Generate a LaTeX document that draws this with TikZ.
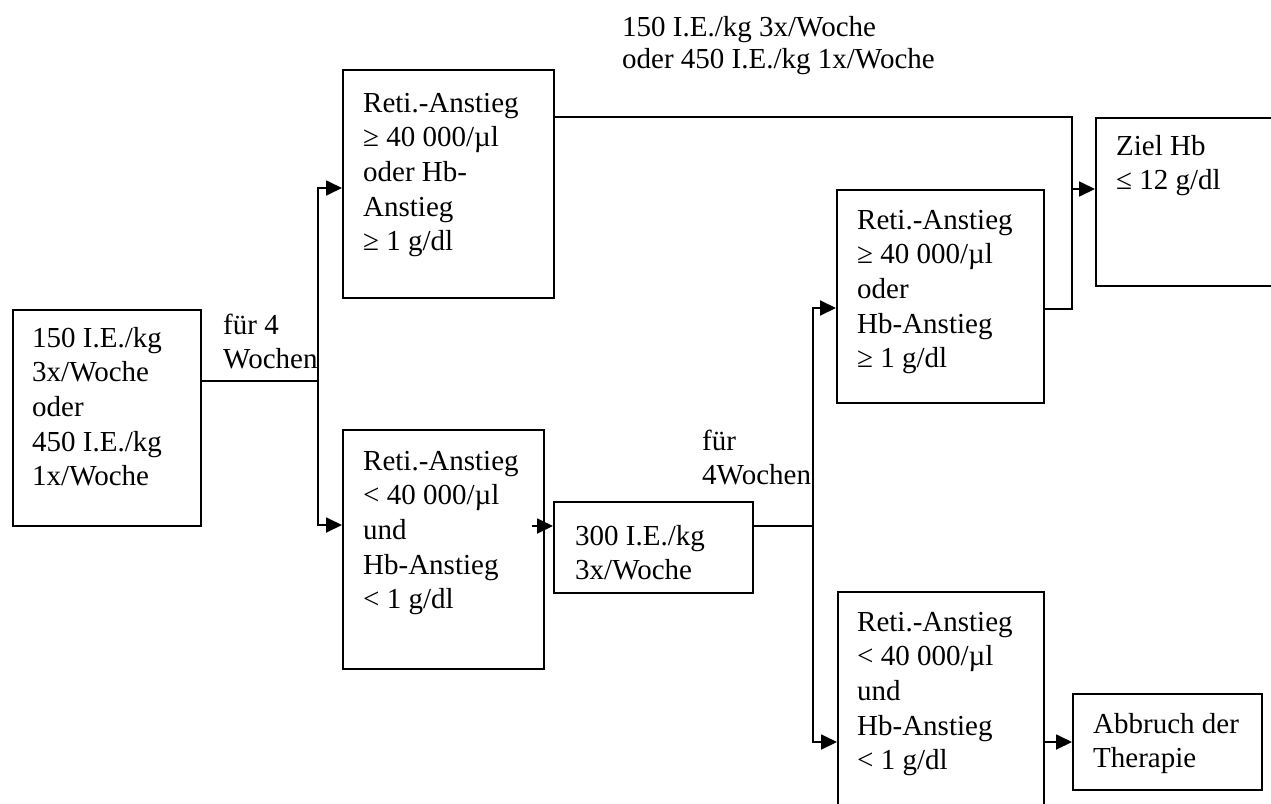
\documentclass[tikz,border=0pt]{standalone}
\usepackage{fontspec}
\setmainfont{Liberation Serif}
\usetikzlibrary{arrows.meta,calc}
\newcommand{\bxlines}[1]{\parbox[t]{360pt}{\raggedright #1}}
\begin{document}
\begin{tikzpicture}[x=1pt,y=-1pt,
  box/.style={draw, line width=1.8pt, inner sep=0pt, anchor=north west},
  txt/.style={inner sep=0pt, anchor=base west, font=\fontsize{29}{34.7}\selectfont},
  conn/.style={line width=1.8pt},
  arr/.style={line width=1.8pt, -{Triangle[length=16pt,width=15pt]}}]
\useasboundingbox (0,0) rectangle (1271,803);
\clip (0,0) rectangle (1271,803);
% boxes
\node[box, minimum width=188pt, minimum height=216pt] (A) at (12,309) {};
\node[box, minimum width=211pt, minimum height=228pt] (B) at (342,69) {};
\node[box, minimum width=201pt, minimum height=239pt] (C) at (342,429) {};
\node[box, minimum width=199pt, minimum height=91pt] (D) at (553,501) {};
\node[box, minimum width=207pt, minimum height=213pt] (E) at (836,189) {};
\node[box, minimum width=220pt, minimum height=168pt] (F) at (1095,117) {};
\node[box, minimum width=206pt, minimum height=240pt] (G) at (837,591) {};
\node[box, minimum width=189pt, minimum height=96pt] (H) at (1072,693) {};
% texts
\node[txt] (At) at (32,347) {\bxlines{150 I.E./kg\\3x/Woche\\oder\\450 I.E./kg\\1x/Woche}};
\node[txt] (Bt) at (363,112) {\bxlines{Reti.-Anstieg\\≥ 40 000/µl\\oder Hb-\\Anstieg\\≥ 1 g/dl}};
\node[txt] (Ct) at (363,470) {\bxlines{Reti.-Anstieg\\< 40 000/µl\\und\\Hb-Anstieg\\< 1 g/dl}};
\node[txt] (Dt) at (575,545) {\bxlines{300 I.E./kg\\3x/Woche}};
\node[txt] (Et) at (857,229) {\bxlines{Reti.-Anstieg\\≥ 40 000/µl\\oder\\Hb-Anstieg\\≥ 1 g/dl}};
\node[txt] (Ft) at (1116,155) {\bxlines{Ziel Hb\\≤ 12 g/dl}};
\node[txt] (Gt) at (857,631) {\bxlines{Reti.-Anstieg\\< 40 000/µl\\und\\Hb-Anstieg\\< 1 g/dl}};
\node[txt] (Ht) at (1093,733) {\bxlines{Abbruch der\\Therapie}};
% labels
\node[txt] (L1) at (223,334) {\bxlines{für 4\\Wochen}};
\node[txt] (L2) at (702,450) {\bxlines{für\\4Wochen}};
\node[txt, font=\fontsize{29}{32.5}\selectfont] (L3) at (622,36) {\bxlines{150 I.E./kg 3x/Woche\\oder 450 I.E./kg 1x/Woche}};
% junction coordinates
\coordinate (jA) at (318,381);
\coordinate (t1) at (318,188);
\coordinate (t2) at (318,525);
\coordinate (u1) at (1072,117);
\coordinate (u2) at (1072,309);
\coordinate (uF) at (1072,189);
\coordinate (vD) at (813,526);
\coordinate (s1) at (813,308);
\coordinate (s2) at (813,742);
% connectors
\draw[conn] (A.east |- jA) -- (jA);
\draw[arr] (jA) -- (t1) -- (t1 -| B.west);
\draw[arr] (jA) -- (t2) -- (t2 -| C.west);
\draw[conn] (u1 -| B.east) -- (u1) -- (u2) -- (u2 -| E.east);
\draw[arr] (uF) -- (uF -| F.west);
\draw[arr] ($(C.east |- vD)+(-13,0)$) -- (vD -| D.west);
\draw[conn] (D.east |- vD) -- (vD);
\draw[arr] (vD) -- (s1) -- (s1 -| E.west);
\draw[arr] (vD) -- (s2) -- (s2 -| G.west);
\draw[arr] (G.east |- s2) -- (s2 -| H.west);
\end{tikzpicture}
\end{document}
